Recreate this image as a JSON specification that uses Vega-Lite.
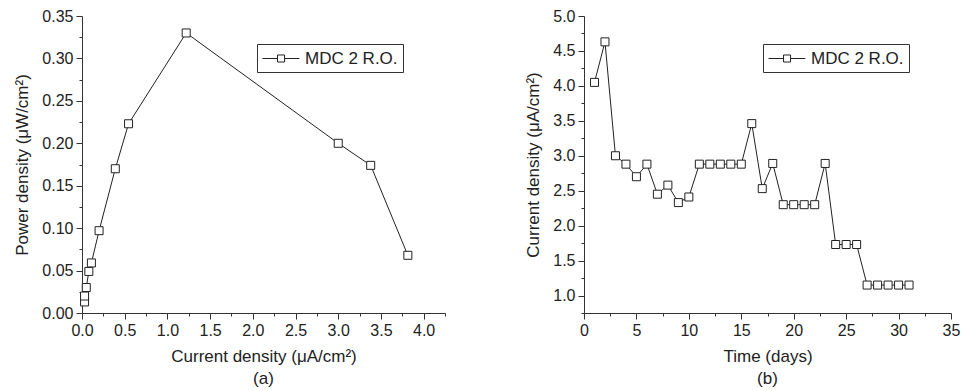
{
  "$schema": "https://vega.github.io/schema/vega-lite/v6.json",
  "padding": {"left": 13, "top": 8, "right": 5, "bottom": 2},
  "spacing": 78,
  "resolve": {"scale": {"stroke": "independent"}, "legend": {"stroke": "independent"}},
  "config": {
    "font": "Liberation Sans",
    "view": {"stroke": null},
    "axis": {
      "grid": false,
      "domainColor": "#333",
      "tickColor": "#333",
      "labelColor": "#222",
      "titleColor": "#222",
      "labelFontSize": 16,
      "titleFontSize": 17,
      "titleFontWeight": "normal",
      "labelPadding": 3,
      "labelFlush": false,
      "labelOverlap": false
    },
    "axisX": {"titlePadding": 10},
    "axisY": {"titlePadding": 10},
    "legend": {
      "orient": "none",
      "strokeColor": "#333",
      "padding": 5,
      "labelFontSize": 17,
      "labelColor": "#222",
      "labelOffset": 24,
      "symbolType": "M-1,0H0.67M1.45,0H3.1M0.67,-0.39H1.45V0.39H0.67Z",
      "symbolSize": 324,
      "symbolStrokeWidth": 1,
      "symbolFillColor": "white",
      "symbolStrokeColor": "#222"
    },
    "title": {"fontSize": 17, "fontWeight": "normal", "color": "#222", "font": "Liberation Sans"}
  },
  "hconcat": [
    {
      "width": 363,
      "height": 297,
      "title": {"text": "(a)", "orient": "bottom", "anchor": "middle", "offset": 7},
      "data": {"values": [
        {"i": 1, "cd": 0.03, "pd": 0.013, "s": "MDC 2 R.O."},
        {"i": 2, "cd": 0.03, "pd": 0.020, "s": "MDC 2 R.O."},
        {"i": 3, "cd": 0.05, "pd": 0.030, "s": "MDC 2 R.O."},
        {"i": 4, "cd": 0.08, "pd": 0.049, "s": "MDC 2 R.O."},
        {"i": 5, "cd": 0.11, "pd": 0.059, "s": "MDC 2 R.O."},
        {"i": 6, "cd": 0.20, "pd": 0.097, "s": "MDC 2 R.O."},
        {"i": 7, "cd": 0.39, "pd": 0.170, "s": "MDC 2 R.O."},
        {"i": 8, "cd": 0.545, "pd": 0.223, "s": "MDC 2 R.O."},
        {"i": 9, "cd": 1.22, "pd": 0.330, "s": "MDC 2 R.O."},
        {"i": 10, "cd": 3.00, "pd": 0.200, "s": "MDC 2 R.O."},
        {"i": 11, "cd": 3.38, "pd": 0.174, "s": "MDC 2 R.O."},
        {"i": 12, "cd": 3.815, "pd": 0.068, "s": "MDC 2 R.O."}
      ]},
      "encoding": {
        "x": {"field": "cd", "type": "quantitative", "scale": {"domain": [0, 4.25], "nice": false},
          "axis": {"title": "Current density (μA/cm²)", "values": [0,0.25,0.5,0.75,1,1.25,1.5,1.75,2,2.25,2.5,2.75,3,3.25,3.5,3.75,4,4.25],
            "labelExpr": "abs(datum.value*2 - round(datum.value*2)) < 0.001 ? format(datum.value, '.1f') : ''",
            "tickSize": {"condition": {"test": "abs(datum.value*2 - round(datum.value*2)) < 0.001", "value": 6}, "value": 3}}},
        "y": {"field": "pd", "type": "quantitative", "scale": {"domain": [0, 0.35], "nice": false},
          "axis": {"title": "Power density (μW/cm²)", "values": [0,0.025,0.05,0.075,0.1,0.125,0.15,0.175,0.2,0.225,0.25,0.275,0.3,0.325,0.35],
            "labelExpr": "abs(datum.value*20 - round(datum.value*20)) < 0.001 ? format(datum.value, '.2f') : ''",
            "tickSize": {"condition": {"test": "abs(datum.value*20 - round(datum.value*20)) < 0.001", "value": 6}, "value": 3}}},
        "order": {"field": "i", "type": "quantitative"}
      },
      "layer": [
        {"mark": {"type": "line", "color": "#222", "strokeWidth": 1}},
        {"mark": {"type": "point", "shape": "square", "filled": true, "fill": "white", "strokeWidth": 1, "size": 64, "opacity": 1},
         "encoding": {"stroke": {"field": "s", "type": "nominal", "scale": {"range": ["#222"]},
           "legend": {"title": null, "legendX": 175, "legendY": 28}}}}
      ]
    },
    {
      "width": 367,
      "height": 297,
      "title": {"text": "(b)", "orient": "bottom", "anchor": "middle", "offset": 7},
      "data": {"values": [
        {"t": 1, "c": 4.05, "s": "MDC 2 R.O."},
        {"t": 2, "c": 4.63, "s": "MDC 2 R.O."},
        {"t": 3, "c": 3.00, "s": "MDC 2 R.O."},
        {"t": 4, "c": 2.88, "s": "MDC 2 R.O."},
        {"t": 5, "c": 2.70, "s": "MDC 2 R.O."},
        {"t": 6, "c": 2.88, "s": "MDC 2 R.O."},
        {"t": 7, "c": 2.45, "s": "MDC 2 R.O."},
        {"t": 8, "c": 2.58, "s": "MDC 2 R.O."},
        {"t": 9, "c": 2.33, "s": "MDC 2 R.O."},
        {"t": 10, "c": 2.41, "s": "MDC 2 R.O."},
        {"t": 11, "c": 2.88, "s": "MDC 2 R.O."},
        {"t": 12, "c": 2.88, "s": "MDC 2 R.O."},
        {"t": 13, "c": 2.88, "s": "MDC 2 R.O."},
        {"t": 14, "c": 2.88, "s": "MDC 2 R.O."},
        {"t": 15, "c": 2.88, "s": "MDC 2 R.O."},
        {"t": 16, "c": 3.46, "s": "MDC 2 R.O."},
        {"t": 17, "c": 2.53, "s": "MDC 2 R.O."},
        {"t": 18, "c": 2.89, "s": "MDC 2 R.O."},
        {"t": 19, "c": 2.30, "s": "MDC 2 R.O."},
        {"t": 20, "c": 2.30, "s": "MDC 2 R.O."},
        {"t": 21, "c": 2.30, "s": "MDC 2 R.O."},
        {"t": 22, "c": 2.30, "s": "MDC 2 R.O."},
        {"t": 23, "c": 2.89, "s": "MDC 2 R.O."},
        {"t": 24, "c": 1.73, "s": "MDC 2 R.O."},
        {"t": 25, "c": 1.73, "s": "MDC 2 R.O."},
        {"t": 26, "c": 1.73, "s": "MDC 2 R.O."},
        {"t": 27, "c": 1.15, "s": "MDC 2 R.O."},
        {"t": 28, "c": 1.15, "s": "MDC 2 R.O."},
        {"t": 29, "c": 1.15, "s": "MDC 2 R.O."},
        {"t": 30, "c": 1.15, "s": "MDC 2 R.O."},
        {"t": 31, "c": 1.15, "s": "MDC 2 R.O."}
      ]},
      "encoding": {
        "x": {"field": "t", "type": "quantitative", "scale": {"domain": [0, 35], "nice": false},
          "axis": {"title": "Time (days)", "values": [0,2.5,5,7.5,10,12.5,15,17.5,20,22.5,25,27.5,30,32.5,35],
            "labelExpr": "datum.value % 5 == 0 ? format(datum.value, 'd') : ''",
            "tickSize": {"condition": {"test": "datum.value % 5 == 0", "value": 6}, "value": 3}}},
        "y": {"field": "c", "type": "quantitative", "scale": {"domain": [0.75, 5], "nice": false, "zero": false},
          "axis": {"title": "Current density (μA/cm²)", "values": [0.75,1,1.25,1.5,1.75,2,2.25,2.5,2.75,3,3.25,3.5,3.75,4,4.25,4.5,4.75,5],
            "labelExpr": "abs(datum.value*2 - round(datum.value*2)) < 0.001 ? format(datum.value, '.1f') : ''",
            "tickSize": {"condition": {"test": "abs(datum.value*2 - round(datum.value*2)) < 0.001", "value": 6}, "value": 3}}}
      },
      "layer": [
        {"mark": {"type": "line", "color": "#222", "strokeWidth": 1}},
        {"mark": {"type": "point", "shape": "square", "filled": true, "fill": "white", "strokeWidth": 1, "size": 64, "opacity": 1},
         "encoding": {"stroke": {"field": "s", "type": "nominal", "scale": {"range": ["#222"]},
           "legend": {"title": null, "legendX": 179, "legendY": 28}}}}
      ]
    }
  ]
}
